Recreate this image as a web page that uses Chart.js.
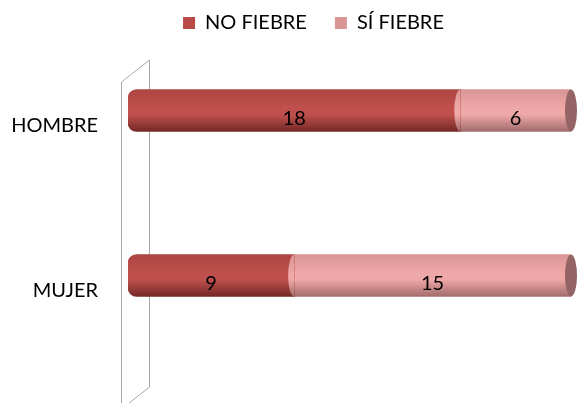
<!DOCTYPE html>
<html>
<head>
<meta charset="utf-8">
<script src="https://cdn.jsdelivr.net/npm/chart.js@4.4.0/dist/chart.umd.min.js"></script>
<style>
  html, body { margin: 0; padding: 0; background: #fff; }
  #wrap { width: 578px; height: 403px; }
</style>
</head>
<body>
<div id="wrap"><canvas id="chart"></canvas></div>
<script>
// data
var categories = ["HOMBRE", "MUJER"];
var noFiebre   = [18, 9];
var siFiebre   = [6, 15];
var seriesNames = ["NO FIEBRE", "SÍ FIEBRE"];

var FONT = "Lato, 'Open Sans', sans-serif";

// colours of the cylinder shading, plus the flat legend swatch
var shades = [
    { dark: "#732927", mid: "#c0504d", top: "#ac4542", swatch: "#b84a48" },
    { dark: "#a26c6b", mid: "#eea8a7", top: "#d99594", swatch: "#d99694" }
];

/******************************************************************************
* Vertical gradient so each bar looks like a cylinder
******************************************************************************/
function makeGradient(chart, idx, y) {
    var s = shades[idx];
    var h = 21;
    var g = chart.ctx.createLinearGradient(0, y - h, 0, y + h);
    g.addColorStop(0, s.top);
    g.addColorStop(0.45, s.mid);
    g.addColorStop(0.6, s.mid);
    g.addColorStop(1, s.dark);
    return g;
}

function cylinderFill(idx) {
    return function(context) {
        var chart = context.chart;
        if (!chart.chartArea || !chart.scales.y) return shades[idx].mid;
        var y = chart.scales.y.getPixelForValue(context.dataIndex);
        return makeGradient(chart, idx, y);
    };
}

/******************************************************************************
* Legend: small fixed height, drawn higher and a bit to the right
******************************************************************************/
var legendFix = {
    id: "legendFix",
    afterInit: function(chart) {
        var legend = chart.legend;
        var fit = legend.fit;
        legend.fit = function() {
            fit.apply(this, arguments);
            this.height = 28;
        };
        var draw = legend.draw;
        legend.draw = function() {
            var top = this.top, bottom = this.bottom, left = this.left;
            this.top = -15;
            this.bottom = 50;
            this.left = left + 56;
            draw.apply(this, arguments);
            this.top = top;
            this.bottom = bottom;
            this.left = left;
        };
    }
};

/******************************************************************************
* The 3D "wall" behind the bars, the segment ends and the value labels
******************************************************************************/
var decor = {
    id: "decor",
    beforeDatasetsDraw: function(chart) {
        var ca = chart.chartArea, ctx = chart.ctx;
        ctx.save();
        ctx.strokeStyle = "#a6a6a6";
        ctx.lineWidth = 1;
        ctx.beginPath();
        ctx.moveTo(ca.left - 6.5, ca.bottom + 52);
        ctx.lineTo(ca.left - 6.5, ca.top + 54);
        ctx.lineTo(ca.left + 21.5, ca.top + 32);
        ctx.lineTo(ca.left + 21.5, ca.bottom + 29);
        ctx.lineTo(ca.left - 6.5, ca.bottom + 51);
        ctx.stroke();
        ctx.restore();
    },
    afterDatasetsDraw: function(chart) {
        var ctx = chart.ctx;
        ctx.save();
        var lastIdx = chart.data.datasets.length - 1;
        var last = chart.getDatasetMeta(lastIdx);
        last.data.forEach(function(bar) {
            // rounded left end of the pink part, lying over the red part
            ctx.fillStyle = makeGradient(chart, lastIdx, bar.y);
            ctx.beginPath();
            ctx.ellipse(bar.base, bar.y, 6, bar.height / 2, 0, Math.PI / 2, Math.PI * 1.5);
            ctx.fill();
            // right end cap
            ctx.fillStyle = "#946363";
            ctx.beginPath();
            ctx.ellipse(bar.x, bar.y, 6, bar.height / 2, 0, 0, Math.PI * 2);
            ctx.fill();
        });
        // value labels
        ctx.fillStyle = "#000";
        ctx.font = "20px " + FONT;
        ctx.textAlign = "center";
        ctx.textBaseline = "middle";
        chart.data.datasets.forEach(function(ds, i) {
            chart.getDatasetMeta(i).data.forEach(function(bar, j) {
                var cx = (bar.base + bar.x) / 2;
                ctx.fillText(String(ds.data[j]), cx, bar.y + 8);
            });
        });
        ctx.restore();
    }
};

var ctx = document.getElementById("chart").getContext("2d");
new Chart(ctx, {
    type: "bar",
    data: {
        labels: categories,
        datasets: [{
            label: seriesNames[0],
            data: noFiebre,
            backgroundColor: cylinderFill(0),
            borderWidth: 0,
            borderSkipped: false,
            borderRadius: { topLeft: 9, bottomLeft: 9, topRight: 0, bottomRight: 0 },
            barThickness: 42
        }, {
            label: seriesNames[1],
            data: siFiebre,
            backgroundColor: cylinderFill(1),
            borderWidth: 0,
            borderSkipped: false,
            borderRadius: 0,
            barThickness: 42
        }]
    },
    options: {
        indexAxis: "y",
        responsive: true,
        maintainAspectRatio: false,
        animation: false,
        layout: { padding: { top: 0, right: 7, bottom: 45, left: 0 } },
        scales: {
            x: { stacked: true, display: false, min: 0, max: 24 },
            y: {
                stacked: true,
                grid: { display: false },
                border: { display: false },
                ticks: {
                    color: "#000",
                    font: { family: FONT, size: 20 },
                    padding: 22,
                    labelOffset: 15
                },
                afterFit: function(scale) {
                    scale.width = 128;
                    scale.paddingTop = 0;
                    scale.paddingBottom = 0;
                }
            }
        },
        plugins: {
            tooltip: { enabled: false },
            legend: {
                position: "top",
                labels: {
                    color: "#000",
                    font: { family: FONT, size: 20 },
                    boxWidth: 12,
                    boxHeight: 12,
                    padding: 28,
                    generateLabels: function(chart) {
                        return chart.data.datasets.map(function(ds, i) {
                            return {
                                text: ds.label,
                                fillStyle: shades[i].swatch,
                                strokeStyle: shades[i].swatch,
                                lineWidth: 0,
                                datasetIndex: i
                            };
                        });
                    }
                }
            }
        }
    },
    plugins: [legendFix, decor]
});
</script>
</body>
</html>
